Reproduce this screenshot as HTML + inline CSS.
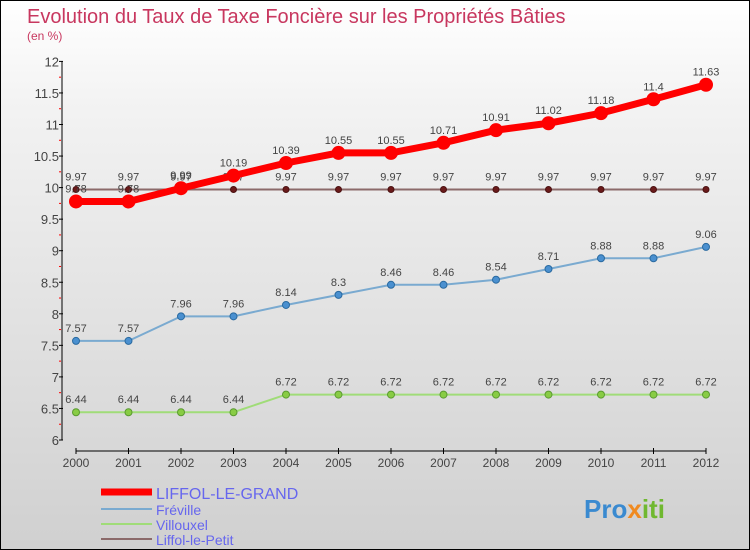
<!DOCTYPE html>
<html><head><meta charset="utf-8"><style>
body{margin:0}
#wrap{position:relative;width:748px;height:548px;border:1px solid #000;background:linear-gradient(#fff,#f2f2f2 20%,#d0d0d0);overflow:hidden;font-family:"Liberation Sans",sans-serif}
</style></head><body>
<div id="wrap">
<svg id="svg" width="748" height="548" xmlns="http://www.w3.org/2000/svg">
<text x="26" y="22" font-size="20" fill="#c8375f">Evolution du Taux de Taxe Foncière sur les Propriétés Bâties</text>
<text x="26" y="39" font-size="12" fill="#c8375f">(en %)</text>
<g id="axes"></g><g id="series"></g>
<g>
<line x1="100" y1="491" x2="151" y2="491" stroke="#f00" stroke-width="7"/>
<text x="155" y="498" font-size="16" fill="#6666ee">LIFFOL-LE-GRAND</text>
<line x1="100" y1="508" x2="151" y2="508" stroke="#7aaad0" stroke-width="2"/>
<text x="155" y="514" font-size="14" fill="#6666ee">Fréville</text>
<line x1="100" y1="523" x2="151" y2="523" stroke="#a0dc78" stroke-width="2"/>
<text x="155" y="529" font-size="14" fill="#6666ee">Villouxel</text>
<line x1="100" y1="538" x2="151" y2="538" stroke="#8b6a6a" stroke-width="2"/>
<text x="155" y="544" font-size="14" fill="#6666ee">Liffol-le-Petit</text>
</g>
<text x="583" y="517" font-size="26" font-weight="bold" fill="#3a8ad0">Pro<tspan fill="#f08a20">x</tspan><tspan fill="#70b830">iti</tspan></text>
</svg></div>
<script>
const years=[2000,2001,2002,2003,2004,2005,2006,2007,2008,2009,2010,2011,2012];
const yTicks=[6,6.5,7,7.5,8,8.5,9,9.5,10,10.5,11,11.5,12];
const grand=[9.78,9.78,9.99,10.19,10.39,10.55,10.55,10.71,10.91,11.02,11.18,11.4,11.63];
const freville=[7.57,7.57,7.96,7.96,8.14,8.3,8.46,8.46,8.54,8.71,8.88,8.88,9.06];
const villouxel=[6.44,6.44,6.44,6.44,6.72,6.72,6.72,6.72,6.72,6.72,6.72,6.72,6.72];
const petit=[9.97,9.97,9.97,9.97,9.97,9.97,9.97,9.97,9.97,9.97,9.97,9.97,9.97];
const NS="http://www.w3.org/2000/svg";
const X=y=>75+(y-2000)*52.5, Y=v=>439-(v-6)*63.1;
function mk(p,t,a){const e=document.createElementNS(NS,t);for(const k in a)e.setAttribute(k,a[k]);p.appendChild(e);return e;}
const ax=document.getElementById('axes');
let l=mk(ax,'line',{x1:61,y1:Y(12),x2:61,y2:Y(6),stroke:'#000'});


yTicks.forEach((v,i)=>{
 mk(ax,'line',{x1:58,y1:Y(v),x2:62,y2:Y(v),stroke:'#000'});
 if(i<yTicks.length-1)mk(ax,'line',{x1:58,y1:Y(v+0.25),x2:60,y2:Y(v+0.25),stroke:'#f00'});
 const t=mk(ax,'text',{x:58,y:Y(v)+5,'font-size':13,fill:'#444','text-anchor':'end'});t.textContent=String(v);
 
 
});
l=mk(ax,'line',{x1:75,y1:450,x2:X(2012),y2:450,stroke:'#000'});


years.forEach(y=>{
 mk(ax,'line',{x1:X(y),y1:447,x2:X(y),y2:453,stroke:'#000'});
 const t=mk(ax,'text',{x:X(y),y:466,'font-size':12,fill:'#444','text-anchor':'middle'});t.textContent=y;
 
 
});
const sg=document.getElementById('series');
function series(name,vals,col,w,r,fill,stroke){
 const g=mk(sg,'g',{});
 
 
 mk(g,'polyline',{points:vals.map((v,i)=>X(years[i])+','+Y(v)).join(' '),fill:'none',stroke:col,'stroke-width':w});
 vals.forEach((v,i)=>{
  const c=mk(g,'circle',{cx:X(years[i]),cy:Y(v),r:r,fill:fill,stroke:stroke});
  
  
  const t=mk(g,'text',{x:X(years[i]),y:Y(v)-9,'font-size':11,fill:'#444','text-anchor':'middle'});t.textContent=String(v);
  
  
 });
}
series('villouxel',villouxel,'#a0dc78',2,3.5,'#88cc44','#5a9a30');
series('freville',freville,'#7aaad0',2,3.5,'#4a90d0','#2a6aa0');
series('liffol-le-petit',petit,'#8b6a6a',2,3,'#6a1a1a','#4a1010');
series('liffol-le-grand',grand,'#f00',7,6.5,'#f00','#f00');
</script>
</body></html>
